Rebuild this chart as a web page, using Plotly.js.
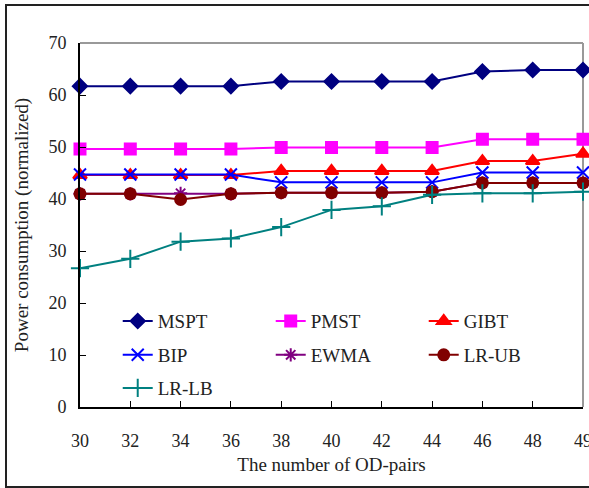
<!DOCTYPE html>
<html>
<head>
<meta charset="utf-8">
<script src="https://cdn.plot.ly/plotly-3.0.1.min.js"></script>
<style>
html,body{margin:0;padding:0;background:#fff;}
#wrap{position:relative;width:589px;height:488px;overflow:hidden;}
#chart{width:589px;height:488px;}
#frame{position:absolute;left:5px;top:4px;width:600px;height:480px;border:2px solid #222;pointer-events:none;}
</style>
</head>
<body>
<div id="wrap"><div id="chart"></div><div id="frame"></div></div>
<script>
const categories = ["30","32","34","36","38","40","42","44","46","48","49"];
const MSPT  = [61.7,61.7,61.7,61.7,62.6,62.6,62.6,62.6,64.5,64.8,64.8];
const PMST  = [49.6,49.6,49.6,49.6,49.9,49.9,49.9,49.9,51.5,51.5,51.5];
const GIBT  = [44.6,44.6,44.6,44.6,45.4,45.4,45.4,45.4,47.3,47.3,48.7];
const BIP   = [44.7,44.7,44.7,44.7,43.2,43.2,43.2,43.2,45.1,45.1,45.1];
const EWMA  = [41.0,41.0,41.1,41.0,41.2,41.2,41.2,41.4,43.1,43.1,43.1];
const LRUB  = [41.0,41.0,39.9,41.0,41.2,41.2,41.2,41.4,43.1,43.1,43.1];
const LRLB  = [26.7,28.5,31.8,32.4,34.6,37.9,38.6,40.8,41.1,41.1,41.4];
const yTicks = [0,10,20,30,40,50,60,70];

function tr(name, y, color, symbol, size, legend){
  return {
    type:'scatter', mode:'lines+markers', name:name, x:categories, y:y,
    line:{color:color, width:2},
    marker:{color:color, symbol:symbol, size:size, line:{color:color, width:2}},
    cliponaxis:false, legend:legend
  };
}
const data = [
  tr('MSPT', MSPT, '#000080', 'diamond', 11, 'legend'),
  tr('PMST', PMST, '#FF00FF', 'square', 11, 'legend'),
  tr('GIBT', GIBT, '#FF0000', 'triangle-up', 12, 'legend'),
  tr('BIP', BIP, '#0000FF', 'x-thin', 12, 'legend2'),
  tr('EWMA', EWMA, '#800080', 'asterisk', 11, 'legend2'),
  tr('LR-UB', LRUB, '#800000', 'circle', 11, 'legend2'),
  tr('LR-LB', LRLB, '#008080', 'cross-thin', 13, 'legend3')
];
const fam = '"Liberation Serif", "DejaVu Serif", serif';
const font = {family:fam, size:18, color:'#222'};
function leg(y){
  return {orientation:'h', x:0.075, y:y, xanchor:'left', yanchor:'middle',
    entrywidth:108, entrywidthmode:'pixels',
    font:{family:fam, size:19, color:'#222'}, bgcolor:'rgba(0,0,0,0)', traceorder:'normal'};
}
const layout = {
  width:589, height:488,
  margin:{l:80, r:6, t:43, b:81},
  paper_bgcolor:'#fff', plot_bgcolor:'#fff',
  font:font,
  showlegend:true,
  legend:leg(0.236),
  legend2:leg(0.143),
  legend3:leg(0.052),
  xaxis:{type:'category', range:[0,10], showgrid:false, zeroline:false,
    showline:true, linecolor:'#000', linewidth:2,
    ticks:'inside', ticklen:6, tickcolor:'#000', tickwidth:1,
    ticklabelstandoff:16,
    tickfont:{family:fam, size:18, color:'#222'},
    title:{text:'The number of OD-pairs', font:{family:fam, size:19, color:'#222'}, standoff:8}},
  yaxis:{range:[0,70], tickvals:yTicks, showgrid:false, zeroline:false,
    showline:true, linecolor:'#000', linewidth:2,
    ticks:'inside', ticklen:6, tickcolor:'#000', tickwidth:1,
    ticklabelstandoff:8,
    tickfont:{family:fam, size:18, color:'#222'},
    title:{text:'Power consumption (normalized)', font:{family:fam, size:19, color:'#222'}, standoff:15}},
  shapes:[
    {type:'line', xref:'paper', yref:'paper', x0:0, x1:1, y0:1, y1:1, line:{color:'#999', width:2}, layer:'below'},
    {type:'line', xref:'paper', yref:'paper', x0:1, x1:1, y0:0, y1:1, line:{color:'#999', width:2}, layer:'below'}
  ]
};
Plotly.newPlot('chart', data, layout, {displayModeBar:false, staticPlot:true});
</script>
</body>
</html>
